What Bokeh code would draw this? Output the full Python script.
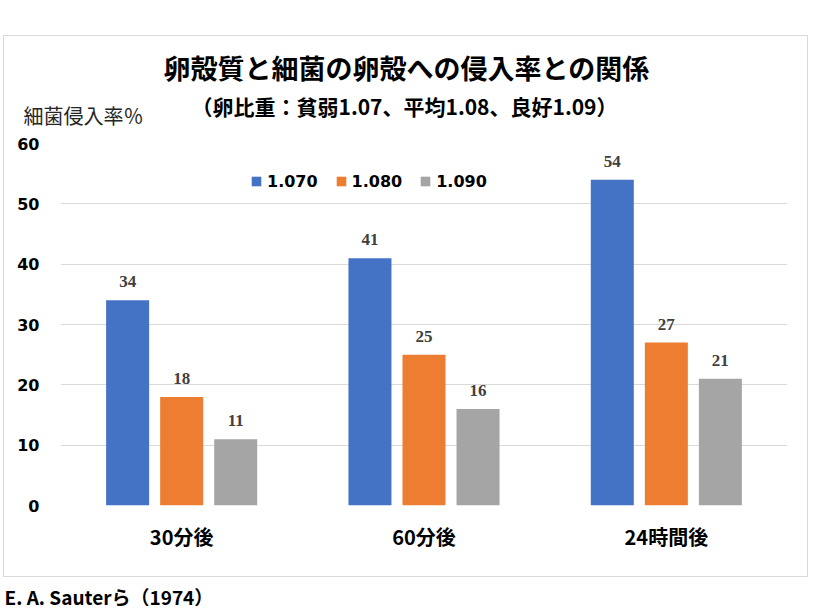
from bokeh.plotting import figure
from bokeh.models import (ColumnDataSource, FactorRange, LabelSet, Label, Legend,
                          LegendItem, FixedTicker, Range1d, Spacer)
from bokeh.layouts import column, row
from bokeh.transform import dodge
from bokeh.embed import file_html
from bokeh.resources import INLINE

categories = ["30分後", "60分後", "24時間後"]
series_names = ["1.070", "1.080", "1.090"]
s1070 = [34, 41, 54]
s1080 = [18, 25, 27]
s1090 = [11, 16, 21]
y_ticks = [0, 10, 20, 30, 40, 50, 60]
title_text = "卵殻質と細菌の卵殻への侵入率との関係"
subtitle_text = "（卵比重：貧弱1.07、平均1.08、良好1.09）"
ylabel_text = "細菌侵入率％"
source_text = "E. A. Sauterら（1974）"

colors = ["#4472C4", "#ED7D31", "#A5A5A5"]
JP = "Noto Sans CJK JP"


def blank_fig(w, h):
    f = figure(width=w, height=h, output_backend="svg", toolbar_location=None,
               x_axis_location=None, y_axis_location=None, tools="",
               x_range=Range1d(0, 1), y_range=Range1d(0, 1))
    f.min_border_left = 0
    f.min_border_right = 0
    f.min_border_top = 0
    f.min_border_bottom = 0
    f.outline_line_color = None
    f.xgrid.visible = False
    f.ygrid.visible = False
    f.background_fill_color = "white"
    f.border_fill_color = "white"
    f.frame_align = False
    return f


# ---------- header (titles and y-axis caption) ----------
head = blank_fig(803, 97)
head.add_layout(Label(x=402, y=66, x_units="screen", y_units="screen", text=title_text,
                      text_align="center", text_baseline="middle", text_font=JP,
                      text_font_style="bold", text_font_size="27px", text_color="black"))
head.add_layout(Label(x=400, y=28, x_units="screen", y_units="screen", text=subtitle_text,
                      text_align="center", text_baseline="middle", text_font=JP,
                      text_font_style="bold", text_font_size="21px", text_color="black"))
head.add_layout(Label(x=19, y=18, x_units="screen", y_units="screen", text=ylabel_text,
                      text_align="left", text_baseline="middle", text_font=JP,
                      text_font_style="normal", text_font_size="20px", text_color="#262626"))

# ---------- main bar chart ----------
src = ColumnDataSource(data=dict(cat=categories, a=s1070, b=s1080, c=s1090,
                                 la=[str(v) for v in s1070],
                                 lb=[str(v) for v in s1080],
                                 lc=[str(v) for v in s1090]))

p = figure(width=803, height=443, output_backend="svg", toolbar_location=None,
           x_range=FactorRange(factors=categories, range_padding=0),
           y_range=Range1d(0, 60), tools="")
p.min_border_left = 56
p.min_border_right = 20
p.min_border_top = 10
p.min_border_bottom = 71
p.outline_line_color = None
p.background_fill_color = "white"
p.border_fill_color = "white"
p.frame_align = False

offsets = [-0.223, 0.0, 0.223]
cols = ["a", "b", "c"]
lcols = ["la", "lb", "lc"]
items = []
for off, col, lcol, color, name in zip(offsets, cols, lcols, colors, series_names):
    r = p.vbar(x=dodge("cat", off, range=p.x_range), top=col, width=0.1775,
               source=src, fill_color=color, line_color=None)
    items.append(LegendItem(label=name, renderers=[r]))
    lab = LabelSet(x=dodge("cat", off, range=p.x_range), y=col, text=lcol, source=src,
                   text_align="center", text_baseline="alphabetic", y_offset=13,
                   text_font="Liberation Serif", text_font_style="bold",
                   text_font_size="17px", text_color="#404040")
    p.add_layout(lab)

legend = Legend(items=items, orientation="horizontal", location=(190, 314),
                glyph_width=12, glyph_height=12, label_standoff=5, spacing=17,
                padding=0, margin=0, border_line_color=None,
                background_fill_alpha=0, label_text_font="DejaVu Sans",
                label_text_font_style="bold", label_text_font_size="16px",
                label_text_color="black", label_height=20)
p.add_layout(legend)

p.yaxis.ticker = FixedTicker(ticks=y_ticks)
p.yaxis.axis_line_color = None
p.yaxis.major_tick_line_color = None
p.yaxis.minor_tick_line_color = None
p.yaxis.major_tick_out = 0
p.yaxis.major_label_standoff = 21
p.yaxis.major_label_text_font = "DejaVu Sans"
p.yaxis.major_label_text_font_style = "bold"
p.yaxis.major_label_text_font_size = "16px"
p.yaxis.major_label_text_color = "black"

p.xaxis.axis_line_color = None
p.xaxis.major_tick_line_color = None
p.xaxis.minor_tick_line_color = None
p.xaxis.major_tick_out = 0
p.xaxis.major_label_standoff = 16
p.xaxis.major_label_text_font = JP
p.xaxis.major_label_text_font_style = "bold"
p.xaxis.major_label_text_font_size = "20px"
p.xaxis.major_label_text_color = "black"

p.xgrid.grid_line_color = None
p.ygrid.grid_line_color = "#d9d9d9"
p.ygrid.grid_line_width = 1

# ---------- source note below the chart box ----------
note = blank_fig(320, 34)
note.add_layout(Label(x=1, y=15, x_units="screen", y_units="screen", text=source_text,
                      text_align="left", text_baseline="middle", text_font=JP,
                      text_font_style="bold", text_font_size="19px", text_color="black"))

box = column(head, p, styles={"border": "1px solid #d9d9d9"})
root = row(Spacer(width=3, height=10),
           column(Spacer(width=10, height=35), box, note))

open("out.html", "w").write(file_html(root, INLINE))
